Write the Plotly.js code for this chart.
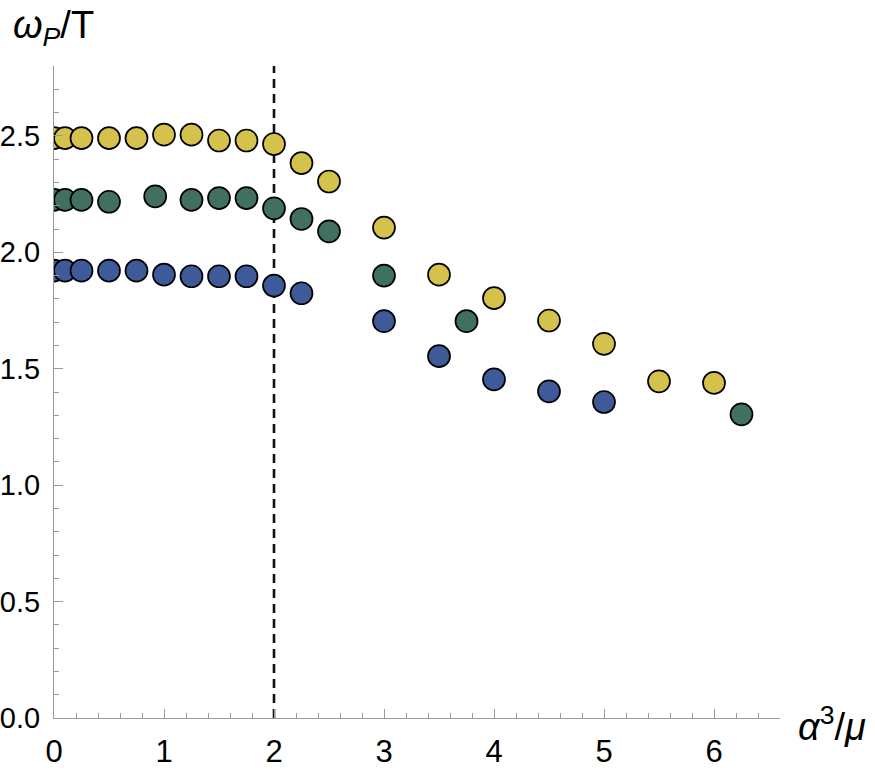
<!DOCTYPE html>
<html>
<head>
<meta charset="utf-8">
<script src="https://cdn.plot.ly/plotly-3.0.1.min.js"></script>
<style>html,body{margin:0;padding:0;background:#fff;}#chart{width:875px;height:773px;}</style>
</head>
<body>
<div id="chart"></div>
<script>
// Data
var yellowX = [0, 0.1, 0.25, 0.5, 0.75, 1.0, 1.25, 1.5, 1.75, 2.0, 2.25, 2.5, 3.0, 3.5, 4.0, 4.5, 5.0, 5.5, 6.0];
var yellowY = [2.49, 2.49, 2.49, 2.49, 2.49, 2.505, 2.505, 2.48, 2.48, 2.465, 2.383, 2.304, 2.106, 1.904, 1.803, 1.707, 1.607, 1.446, 1.439];

var greenX = [0, 0.1, 0.25, 0.5, 0.92, 1.25, 1.5, 1.75, 2.0, 2.25, 2.5, 3.0, 3.75, 6.25];
var greenY = [2.225, 2.225, 2.225, 2.217, 2.24, 2.225, 2.233, 2.233, 2.189, 2.143, 2.09, 1.90, 1.704, 1.304];

var blueX = [0, 0.1, 0.25, 0.5, 0.75, 1.0, 1.25, 1.5, 1.75, 2.0, 2.25, 3.0, 3.5, 4.0, 4.5, 5.0];
var blueY = [1.921, 1.921, 1.921, 1.921, 1.921, 1.904, 1.897, 1.897, 1.897, 1.857, 1.824, 1.704, 1.554, 1.454, 1.403, 1.357];

var xMajorTicks = [0, 1, 2, 3, 4, 5, 6];
var xTickLabels = ['0', '1', '2', '3', '4', '5', '6'];
var yMajorTicks = [0, 0.5, 1.0, 1.5, 2.0, 2.5];
var yTickLabels = ['0.0', '0.5', '1.0', '1.5', '2.0', '2.5'];
var dashedX = 2;

var xRange = [0, 6.6];
var yRange = [0, 2.8];

function series(x, y, color) {
  return {
    x: x, y: y, type: 'scatter', mode: 'markers', cliponaxis: true,
    marker: {size: 22, color: color, line: {color: '#000', width: 1.7}},
    hoverinfo: 'x+y', showlegend: false
  };
}

var traces = [
  series(blueX, blueY, '#3e5a99'),
  series(greenX, greenY, '#41705f'),
  series(yellowX, yellowY, '#d4c24c')
];

var axisCommon = {
  showgrid: false, zeroline: false, showline: true,
  linecolor: '#9a9a9a', linewidth: 1,
  ticks: 'inside', tickcolor: '#9a9a9a', tickwidth: 1, ticklen: 9,
  tickmode: 'array',
  minor: {ticks: 'inside', ticklen: 5, tickcolor: '#9a9a9a', tickwidth: 1, showgrid: false}
};

var layout = {
  width: 875, height: 773,
  margin: {l: 54.3, r: 95, t: 65.7, b: 54.7},
  paper_bgcolor: '#fff', plot_bgcolor: '#fff',
  xaxis: Object.assign({}, axisCommon, {
    range: xRange, tickvals: xMajorTicks, ticktext: xTickLabels,
    tickfont: {family: 'Liberation Sans, Arial, sans-serif', size: 31, color: '#000'},
    minor: Object.assign({}, axisCommon.minor, {dtick: 0.2, tick0: 0}),
    ticklabelstandoff: 6
  }),
  yaxis: Object.assign({}, axisCommon, {
    range: yRange, tickvals: yMajorTicks, ticktext: yTickLabels,
    tickfont: {family: 'Liberation Sans, Arial, sans-serif', size: 29, color: '#000'},
    minor: Object.assign({}, axisCommon.minor, {dtick: 0.1, tick0: 0}),
    ticklabelstandoff: 7
  }),
  shapes: [{
    type: 'line', xref: 'x', yref: 'y', x0: dashedX, x1: dashedX, y0: yRange[0], y1: yRange[1],
    line: {color: '#111', width: 2.6, dash: '9px,6px'}, layer: 'below'
  }],
  annotations: [
    {xref: 'paper', yref: 'paper', x: 0, y: 1, xshift: -43, yshift: 64, xanchor: 'left', yanchor: 'top',
     showarrow: false, text: '<i>ω</i><sub><i>P</i></sub>/T',
     font: {family: 'Liberation Sans, Arial, sans-serif', size: 38, color: '#000'}},
    {xref: 'paper', yref: 'paper', x: 1, y: 0, xshift: 16, yshift: -32, xanchor: 'left', yanchor: 'bottom',
     showarrow: false, text: '<i>α</i><sup>3</sup>/<i>μ</i>',
     font: {family: 'Liberation Sans, Arial, sans-serif', size: 38, color: '#000'}}
  ]
};

Plotly.newPlot('chart', traces, layout, {displayModeBar: false, staticPlot: true});
</script>
</body>
</html>
